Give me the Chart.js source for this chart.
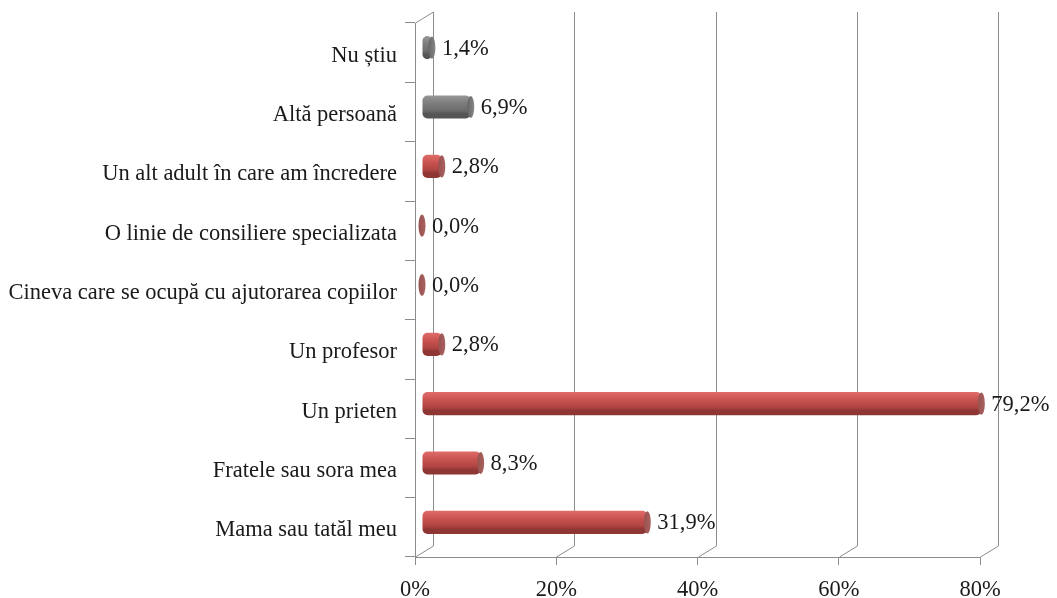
<!DOCTYPE html>
<html>
<head>
<meta charset="utf-8">
<script src="https://cdn.jsdelivr.net/npm/chart.js@4"></script>
<style>
  html, body { margin: 0; padding: 0; background: #fff; }
  #wrap { width: 1057px; height: 598px; }
</style>
</head>
<body>
<div id="wrap"><canvas id="chart"></canvas></div>
<script>
const categories = [
    "Nu știu",
    "Altă persoană",
    "Un alt adult în care am încredere",
    "O linie de consiliere specializata",
    "Cineva care se ocupă cu ajutorarea copiilor",
    "Un profesor",
    "Un prieten",
    "Fratele sau sora mea",
    "Mama sau tatăl meu"
];
const values = [1.4, 6.9, 2.8, 0.0, 0.0, 2.8, 79.2, 8.3, 31.9];
const xTicks = [0, 20, 40, 60, 80];

// depth of the fake 3d box (front plane -> back wall)
const DEPTH_X = 18, DEPTH_Y = -11;
const BAR_DX = 7, BAR_DY = -5;
const FONT = "'Liberation Serif', 'Times New Roman', serif";

function isGray(i) { return i < 2; }

function barFill(ctx) {
    const chart = ctx.chart;
    const y = chart.scales.y;
    if (!chart.chartArea || !y) return isGray(ctx.dataIndex) ? "#7f7f7f" : "#c0504d";
    const c = y.getPixelForValue(ctx.dataIndex) + BAR_DY;
    const h = 12;
    const g = chart.ctx.createLinearGradient(0, c - h, 0, c + h);
    if (isGray(ctx.dataIndex)) {
        g.addColorStop(0, "#a0a0a0");
        g.addColorStop(0.2, "#9a9a9a");
        g.addColorStop(0.5, "#808080");
        g.addColorStop(0.85, "#6c6c6c");
        g.addColorStop(1, "#555555");
    } else {
        g.addColorStop(0, "#d8817e");
        g.addColorStop(0.25, "#df6b68");
        g.addColorStop(0.55, "#c85350");
        g.addColorStop(0.85, "#b04442");
        g.addColorStop(1, "#8e3634");
    }
    return g;
}

// back wall gridlines with slanted floor lines
const backWall = {
    id: "backWall",
    beforeDatasetsDraw(chart) {
        const { ctx, chartArea } = chart;
        const x = chart.scales.x;
        ctx.save();
        ctx.strokeStyle = "#8c8c8c";
        ctx.lineWidth = 1;
        xTicks.forEach(v => {
            const px = Math.round(x.getPixelForValue(v)) + 0.5;
            ctx.beginPath();
            ctx.moveTo(px + DEPTH_X, chartArea.top + DEPTH_Y);
            ctx.lineTo(px + DEPTH_X, chartArea.bottom + DEPTH_Y);
            ctx.lineTo(px, chartArea.bottom);
            ctx.stroke();
        });
        const p0 = Math.round(x.getPixelForValue(0)) + 0.5;
        ctx.beginPath();
        ctx.moveTo(p0, chartArea.top);
        ctx.lineTo(p0 + DEPTH_X, chartArea.top + DEPTH_Y);
        ctx.stroke();
        ctx.restore();
        // bars sit in the middle of the box depth
        ctx.save();
        ctx.translate(BAR_DX, BAR_DY);
    },
    afterDatasetsDraw(chart) {
        const ctx = chart.ctx;
        const meta = chart.getDatasetMeta(0);
        meta.data.forEach((bar, i) => {
            const h = bar.height / 2;
            ctx.beginPath();
            ctx.ellipse(bar.x, bar.y, 3.5, h - 0.5, 0, 0, Math.PI * 2);
            const g = ctx.createLinearGradient(bar.x - 4, 0, bar.x + 4, 0);
            if (isGray(i)) {
                g.addColorStop(0, "#626262");
                g.addColorStop(1, "#8a8a8a");
            } else {
                g.addColorStop(0, "#95504e");
                g.addColorStop(1, "#ab6360");
            }
            ctx.fillStyle = g;
            ctx.fill();
        });
        ctx.restore();
        // value labels
        ctx.save();
        ctx.font = "22.5px " + FONT;
        ctx.fillStyle = "#1a1a1a";
        ctx.textBaseline = "middle";
        ctx.textAlign = "left";
        meta.data.forEach((bar, i) => {
            const txt = values[i].toFixed(1).replace(".", ",") + "%";
            ctx.fillText(txt, bar.x + BAR_DX + 10, bar.y + BAR_DY + 1);
        });
        ctx.restore();
    }
};

new Chart(document.getElementById("chart"), {
    type: "bar",
    data: {
        labels: categories,
        datasets: [{
            data: values,
            backgroundColor: barFill,
            borderWidth: 0,
            borderRadius: 5,
            borderSkipped: false,
            barPercentage: 0.39,
            categoryPercentage: 1
        }]
    },
    options: {
        indexAxis: "y",
        responsive: true,
        maintainAspectRatio: false,
        animation: false,
        layout: { padding: { top: 23, right: 77, left: 0, bottom: 0 } },
        plugins: {
            legend: { display: false },
            tooltip: { enabled: false }
        },
        scales: {
            x: {
                min: 0,
                max: 80,
                afterBuildTicks: s => { s.ticks = xTicks.map(v => ({ value: v })); },
                afterFit: s => { s.height = 41; },
                grid: { drawOnChartArea: false, drawTicks: true, tickLength: 8, color: "#8c8c8c" },
                border: { display: true, color: "#8c8c8c" },
                ticks: {
                    padding: 12,
                    color: "#1a1a1a",
                    font: { family: FONT, size: 22.5 },
                    callback: v => v + "%"
                }
            },
            y: {
                afterFit: s => { s.width = 415; },
                grid: { drawOnChartArea: false, drawTicks: true, tickLength: 10, offset: true, color: "#8c8c8c" },
                border: { display: true, color: "#8c8c8c" },
                ticks: {
                    padding: 8,
                    labelOffset: 3,
                    color: "#1a1a1a",
                    font: { family: FONT, size: 22.5 }
                }
            }
        }
    },
    plugins: [backWall]
});
</script>
</body>
</html>
